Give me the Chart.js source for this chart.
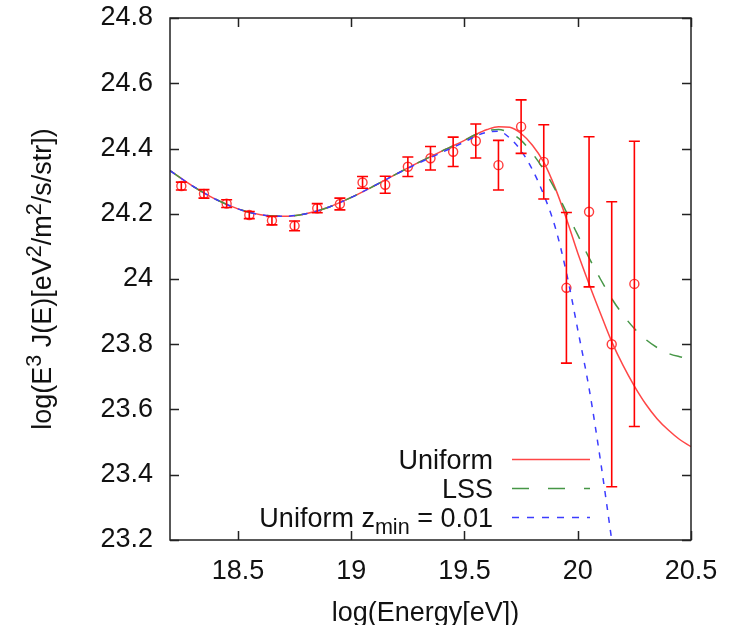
<!DOCTYPE html>
<html>
<head>
<meta charset="utf-8">
<script src="https://cdn.jsdelivr.net/npm/chart.js@4.4.1/dist/chart.umd.min.js"></script>
<style>
  html, body { margin: 0; padding: 0; background: #fff; }
  #wrap { width: 731px; height: 625px; }
</style>
</head>
<body>
<div id="wrap"><canvas id="chart" width="731" height="625"></canvas></div>
<script>
// measured spectrum (log E, log E^3 J, error)
const energy = [18.25, 18.35, 18.45, 18.55, 18.65, 18.75, 18.85, 18.95, 19.05, 19.15, 19.25,
                19.35, 19.45, 19.55, 19.65, 19.75, 19.85, 19.95, 20.05, 20.15, 20.25];
const flux = [24.285, 24.261, 24.231, 24.196, 24.179, 24.163, 24.217, 24.230, 24.296, 24.289, 24.344,
              24.370, 24.390, 24.423, 24.349, 24.467, 24.359, 23.973, 24.206, 23.800, 23.985];
const fluxErr = [0.012, 0.013, 0.012, 0.011, 0.013, 0.015, 0.014, 0.018, 0.018, 0.026, 0.030,
                 0.036, 0.045, 0.052, 0.076, 0.082, 0.114, 0.231, 0.230, 0.437, 0.437];

// model curves
const modelE = [18.2, 18.3, 18.4, 18.5, 18.6, 18.7, 18.8, 18.9, 19.0, 19.1, 19.2, 19.3, 19.4, 19.5,
                19.55, 19.6, 19.65, 19.7, 19.75, 19.8, 19.85, 19.9, 19.95, 20.0, 20.05, 20.1,
                20.15, 20.2, 20.25, 20.3, 20.35, 20.4, 20.45, 20.5];
const uniform = [24.332, 24.285, 24.245, 24.215, 24.197, 24.192, 24.200, 24.220, 24.250, 24.285, 24.322,
                 24.358, 24.392, 24.425, 24.443, 24.458, 24.467, 24.465, 24.446, 24.410, 24.358, 24.280,
                 24.185, 24.080, 23.985, 23.895, 23.808, 23.735, 23.672, 23.617, 23.572, 23.537, 23.508, 23.486];
const lss = [24.332, 24.285, 24.245, 24.215, 24.197, 24.192, 24.200, 24.220, 24.250, 24.285, 24.322,
             24.358, 24.392, 24.425, 24.443, 24.455, 24.458, 24.448, 24.425, 24.385, 24.335, 24.275,
             24.205, 24.135, 24.065, 24.000, 23.940, 23.890, 23.848, 23.815, 23.790, 23.772, 23.762, 23.755];
const zminE = [18.2, 18.3, 18.4, 18.5, 18.6, 18.7, 18.8, 18.9, 19.0, 19.1, 19.2, 19.3, 19.4, 19.5,
               19.55, 19.6, 19.65, 19.7, 19.75, 19.8, 19.85, 19.9, 19.95, 20.0, 20.05, 20.1, 20.15, 20.2];
const uniformZmin = [24.332, 24.285, 24.245, 24.215, 24.197, 24.192, 24.200, 24.220, 24.250, 24.285, 24.322,
                     24.356, 24.388, 24.420, 24.438, 24.450, 24.453, 24.432, 24.393, 24.335, 24.258, 24.160,
                     24.020, 23.845, 23.665, 23.445, 23.200, 22.950];

const xTicks = [18.5, 19, 19.5, 20, 20.5];
const yTicks = [23.2, 23.4, 23.6, 23.8, 24.0, 24.2, 24.4, 24.6, 24.8];

const FONT = '"Liberation Sans", Arial, Helvetica, sans-serif';
const FS = 27;
const RED = 'rgb(255, 0, 0)';
const RED_LINE = 'rgb(255, 70, 70)';
const GREEN = 'rgb(70, 150, 70)';
const BLUE = 'rgb(60, 60, 255)';

const toXY = (xs, ys) => xs.map((x, i) => ({ x: x, y: ys[i] }));

// draws text pieces in a row, pieces can be raised/lowered and smaller
function drawPieces(ctx, pieces, x, y) {
  let cx = x;
  pieces.forEach(p => {
    ctx.font = (p.size || FS) + 'px ' + FONT;
    ctx.fillText(p.t, cx, y + (p.dy || 0));
    cx += ctx.measureText(p.t).width;
  });
}
function piecesWidth(ctx, pieces) {
  let w = 0;
  pieces.forEach(p => {
    ctx.font = (p.size || FS) + 'px ' + FONT;
    w += ctx.measureText(p.t).width;
  });
  return w;
}

// gnuplot look: error bars, frame with inward ticks, axis titles, legend
const gnuplotDecor = {
  id: 'gnuplotDecor',
  afterDatasetsDraw(chart) {
    const { ctx, chartArea: a, scales: { x, y } } = chart;
    ctx.save();
    ctx.beginPath();
    ctx.rect(a.left, a.top, a.right - a.left, a.bottom - a.top);
    ctx.clip();
    ctx.strokeStyle = RED;
    ctx.lineWidth = 1.6;
    energy.forEach((e, i) => {
      const px = x.getPixelForValue(e);
      const top = y.getPixelForValue(flux[i] + fluxErr[i]);
      const bot = y.getPixelForValue(flux[i] - fluxErr[i]);
      ctx.beginPath();
      ctx.moveTo(px, top); ctx.lineTo(px, bot);
      ctx.moveTo(px - 5.5, top); ctx.lineTo(px + 5.5, top);
      ctx.moveTo(px - 5.5, bot); ctx.lineTo(px + 5.5, bot);
      ctx.stroke();
    });
    ctx.restore();
  },
  afterDraw(chart) {
    const { ctx, chartArea: a, scales: { x, y } } = chart;
    ctx.save();
    // frame
    ctx.strokeStyle = '#222';
    ctx.lineWidth = 1.5;
    ctx.strokeRect(a.left, a.top, a.right - a.left, a.bottom - a.top);
    ctx.beginPath();
    const tl = 9;
    xTicks.forEach(v => {
      const px = Math.round(x.getPixelForValue(v)) + 0.5;
      ctx.moveTo(px, a.bottom); ctx.lineTo(px, a.bottom - tl);
      ctx.moveTo(px, a.top); ctx.lineTo(px, a.top + tl);
    });
    yTicks.forEach(v => {
      const py = Math.round(y.getPixelForValue(v)) + 0.5;
      ctx.moveTo(a.left, py); ctx.lineTo(a.left + tl, py);
      ctx.moveTo(a.right, py); ctx.lineTo(a.right - tl, py);
    });
    ctx.stroke();

    ctx.fillStyle = '#111';
    ctx.textBaseline = 'alphabetic';
    ctx.textAlign = 'left';

    // x title
    ctx.font = FS + 'px ' + FONT;
    const xt = 'log(Energy[eV])';
    const xw = ctx.measureText(xt).width;
    ctx.fillText(xt, (a.left + a.right) / 2 - 5 - xw / 2, 621);

    // y title with superscripts
    const sup = FS * 0.8;
    const yPieces = [
      { t: 'log(E' }, { t: '3', size: sup, dy: -10 }, { t: ' J(E)[eV' }, { t: '2', size: sup, dy: -10 },
      { t: '/m' }, { t: '2', size: sup, dy: -10 }, { t: '/s/str])' }
    ];
    const yw = piecesWidth(ctx, yPieces);
    ctx.save();
    ctx.translate(51, (a.top + a.bottom) / 2);
    ctx.rotate(-Math.PI / 2);
    drawPieces(ctx, yPieces, -yw / 2, 0);
    ctx.restore();

    // legend
    const legend = [
      { pieces: [{ t: 'Uniform' }], color: RED_LINE, dash: [] },
      { pieces: [{ t: 'LSS' }], color: GREEN, dash: [17, 19] },
      { pieces: [{ t: 'Uniform z' }, { t: 'min', size: FS * 0.8, dy: 7 }, { t: ' = 0.01' }], color: BLUE, dash: [7, 8] }
    ];
    const textRight = 493, lineL = 512, lineR = 590;
    legend.forEach((row, i) => {
      const ly = 459.5 + i * 29;
      ctx.fillStyle = '#111';
      const w = piecesWidth(ctx, row.pieces);
      drawPieces(ctx, row.pieces, textRight - w, ly + 9.5);
      ctx.strokeStyle = row.color;
      ctx.lineWidth = 1.5;
      ctx.setLineDash(row.dash);
      ctx.beginPath();
      ctx.moveTo(lineL, ly); ctx.lineTo(lineR, ly);
      ctx.stroke();
      ctx.setLineDash([]);
    });
    ctx.restore();
  }
};

const curve = (label, data, color, dash, order) => ({
  label: label,
  data: data,
  showLine: true,
  borderColor: color,
  borderWidth: 1.5,
  borderDash: dash,
  pointRadius: 0,
  cubicInterpolationMode: 'monotone',
  fill: false,
  order: order
});

new Chart(document.getElementById('chart'), {
  type: 'scatter',
  data: {
    datasets: [
      {
        label: 'data',
        data: toXY(energy, flux),
        showLine: false,
        pointRadius: 4.5,
        pointHoverRadius: 4.5,
        pointBorderWidth: 1.4,
        pointBorderColor: 'rgb(255, 60, 60)',
        pointBackgroundColor: 'rgba(0,0,0,0)',
        order: 4
      },
      curve('Uniform', toXY(modelE, uniform), RED_LINE, [], 3),
      curve('LSS', toXY(modelE, lss), GREEN, [13, 14], 2),
      curve('Uniform zmin = 0.01', toXY(zminE, uniformZmin), BLUE, [6, 7], 1)
    ]
  },
  options: {
    responsive: false,
    devicePixelRatio: 1,
    animation: false,
    events: [],
    layout: { padding: { left: 0, right: 40, top: 18, bottom: 0 } },
    plugins: { legend: { display: false }, tooltip: { enabled: false } },
    scales: {
      x: {
        type: 'linear',
        min: 18.2,
        max: 20.5,
        afterBuildTicks: s => { s.ticks = xTicks.map(v => ({ value: v })); },
        afterFit: s => { s.height = 85; s.paddingLeft = 0; s.paddingRight = 0; },
        grid: { display: false, drawTicks: false },
        border: { display: false },
        ticks: {
          padding: 15,
          maxRotation: 0,
          color: '#111',
          font: { family: FONT, size: FS },
          callback: v => String(v)
        }
      },
      y: {
        type: 'linear',
        min: 23.2,
        max: 24.8,
        afterBuildTicks: s => { s.ticks = yTicks.map(v => ({ value: v })); },
        afterFit: s => { s.width = 170; s.paddingTop = 0; s.paddingBottom = 0; },
        grid: { display: false, drawTicks: false },
        border: { display: false },
        ticks: {
          padding: 17,
          color: '#111',
          font: { family: FONT, size: FS },
          callback: v => String(Math.round(v * 10) / 10)
        }
      }
    }
  },
  plugins: [gnuplotDecor]
});
</script>
</body>
</html>
